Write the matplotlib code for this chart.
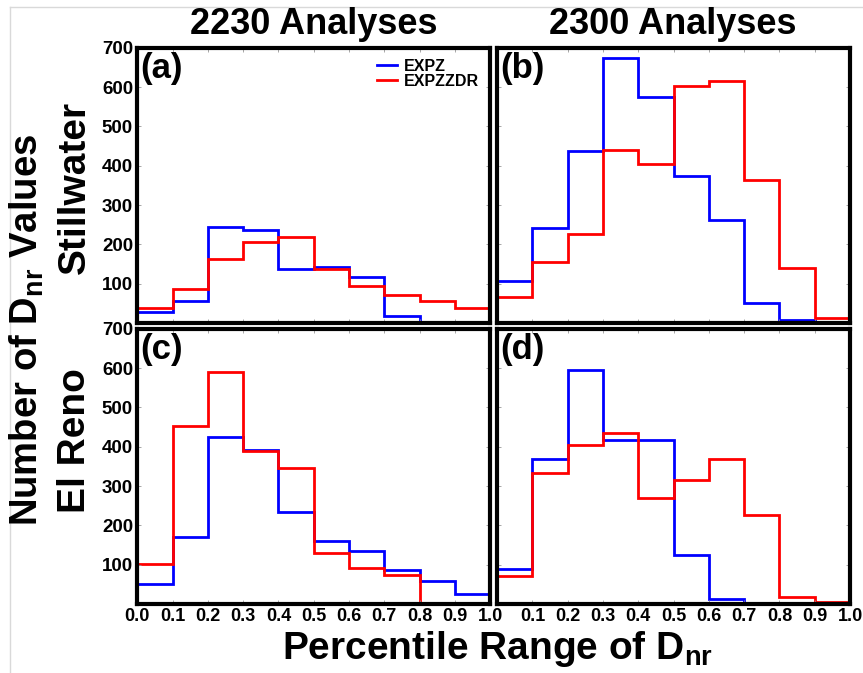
import numpy as np
import matplotlib.pyplot as plt
from matplotlib.lines import Line2D

# percentile bin edges of D_nr
edges = np.round(np.arange(0.0, 1.01, 0.1), 1)
xtick_labels = ["%.1f" % e for e in edges]
yticks = [100, 200, 300, 400, 500, 600, 700]

# counts per bin
a_expz = [28, 55, 243, 237, 137, 143, 118, 18, 3, 1]
a_expzzdr = [37, 86, 163, 205, 220, 138, 94, 71, 55, 39]
b_expz = [108, 242, 438, 674, 575, 374, 263, 52, 9, 3]
b_expzzdr = [65, 156, 226, 440, 405, 602, 616, 364, 139, 14]
c_expz = [51, 170, 425, 391, 233, 161, 135, 87, 59, 26]
c_expzzdr = [101, 453, 591, 389, 347, 131, 91, 73, 0, 0]
d_expz = [89, 370, 596, 416, 416, 124, 14, 2, 0, 0]
d_expzzdr = [72, 334, 404, 434, 270, 316, 368, 226, 19, 4]

panels = [("(a)", a_expz, a_expzzdr), ("(b)", b_expz, b_expzzdr),
          ("(c)", c_expz, c_expzzdr), ("(d)", d_expz, d_expzzdr)]

fig = plt.figure(figsize=(8.63, 6.73), dpi=100)

arial = ["Liberation Sans", "DejaVu Sans"]
plt.rcParams["mathtext.fontset"] = "custom"
plt.rcParams["mathtext.bf"] = "Liberation Sans:bold"
plt.rcParams["mathtext.rm"] = "Liberation Sans:bold"

pos = [(0.159, 0.520), (0.576, 0.520), (0.159, 0.1025), (0.576, 0.1025)]
w, h = 0.409, 0.409

for i, (tag, blue, red) in enumerate(panels):
    ax = fig.add_axes([pos[i][0], pos[i][1], w, h])
    ax.stairs(blue, edges, color="blue", linewidth=2, baseline=None)
    ax.stairs(red, edges, color="red", linewidth=2, baseline=None)
    ax.set_xlim(0, 1)
    ax.set_ylim(0, 700)
    ax.set_xticks(edges)
    ax.set_yticks(yticks)
    for s in ax.spines.values():
        s.set_linewidth(3)
    ax.tick_params(direction="in", length=3, width=0.6, color="0.6",
                   top=True, right=True, pad=3)
    if i == 2:
        ax.set_xticklabels(xtick_labels, family=arial, fontweight="bold", fontsize=13)
    elif i == 3:
        ax.set_xticklabels([""] + xtick_labels[1:], family=arial,
                           fontweight="bold", fontsize=13)
    else:
        ax.set_xticklabels([])
    if i % 2 == 0:
        ax.set_yticklabels([str(v) for v in yticks], family=arial,
                           fontweight="bold", fontsize=13.5)
    else:
        ax.set_yticklabels([])
    ax.text(0.008, 0.985, tag, transform=ax.transAxes, ha="left", va="top",
            family=arial, fontweight="bold", fontsize=25)
    if i == 0:
        handles = [Line2D([], [], color="blue", lw=2),
                   Line2D([], [], color="red", lw=2)]
        ax.legend(handles, ["EXPZ", "EXPZZDR"], loc="upper right", frameon=False,
                  prop={"family": arial, "weight": "bold", "size": 11.5},
                  handlelength=1.3, handletextpad=0.4, labelspacing=0.0,
                  borderaxespad=0.3)

# column titles
fig.text(0.363, 0.964, "2230 Analyses", ha="center", va="center",
         family=arial, fontweight="bold", fontsize=26)
fig.text(0.780, 0.964, "2300 Analyses", ha="center", va="center",
         family=arial, fontweight="bold", fontsize=26)

# row labels
fig.text(0.087, 0.722, "Stillwater", ha="center", va="center", rotation=90,
         family=arial, fontweight="bold", fontsize=28)
fig.text(0.087, 0.346, "El Reno", ha="center", va="center", rotation=90,
         family=arial, fontweight="bold", fontsize=28)
fig.text(0.031, 0.51, r"Number of D$_{\mathbf{nr}}$ Values", ha="center", va="center",
         rotation=90, family=arial, fontweight="bold", fontsize=27.5)

# shared x label
fig.text(0.576, 0.036, r"Percentile Range of D$_{\mathbf{nr}}$", ha="center", va="center",
         family=arial, fontweight="bold", fontsize=28)

# faint frame line of the original image
fig.add_artist(Line2D([0.012, 0.012], [0.0, 0.99], color="0.85", lw=1))
fig.add_artist(Line2D([0.012, 1.0], [0.99, 0.99], color="0.85", lw=1))

fig.savefig("out.png", dpi=100)
